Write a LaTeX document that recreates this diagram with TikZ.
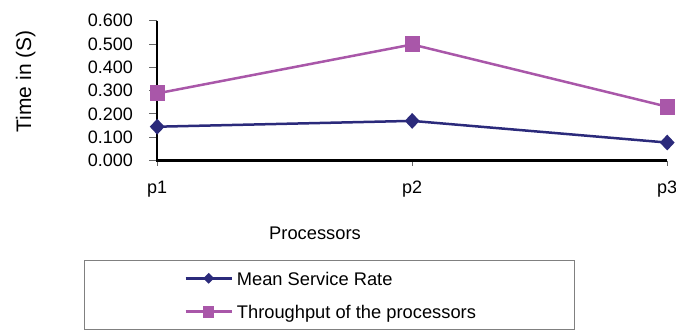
\documentclass[tikz,border=0pt]{standalone}
\usepackage{fontspec}
\setmainfont{Liberation Sans}
\usepackage{xcolor}
\usetikzlibrary{shapes.geometric, calc}
\definecolor{ratenavy}{HTML}{2B2A7B}
\definecolor{thrupurple}{HTML}{A957A9}
\tikzset{
  axisline/.style={line width=2.2pt, black},
  tickline/.style={line width=0.9pt, black!60},
  rateline/.style={line width=2.5pt, ratenavy},
  thruline/.style={line width=2.5pt, thrupurple},
  ratemark/.style={diamond, fill=ratenavy, inner sep=0pt, minimum width=15pt, minimum height=16pt},
  thrumark/.style={rectangle, fill=thrupurple, inner sep=0pt, minimum width=15pt, minimum height=16pt},
  legrate/.style={diamond, fill=ratenavy, inner sep=0pt, minimum size=11pt},
  legthru/.style={rectangle, fill=thrupurple, inner sep=0pt, minimum width=11pt, minimum height=12pt},
  ticklbl/.style={inner sep=0pt, font=\fontsize{18}{20}\selectfont},
  titlelbl/.style={inner sep=0pt, font=\fontsize{18.3}{20}\selectfont},
  legframe/.style={line width=0.9pt, black!50}
}

\begin{document}
\begin{tikzpicture}[x=1pt, y=-1pt]
  \useasboundingbox (0,0) rectangle (676,331);

  \begin{scope}[shift={(157.2,160.5)}, x=255pt, y=233pt]
    % axes
    \coordinate (o) at (0,0);
    \coordinate (ytop) at (0,0.6);
    \coordinate (xend) at (2,0);
    \foreach \v in {0,...,6} {
      \coordinate (yt\v) at (0,\v/10);
      \draw[tickline] (yt\v) -- ++(-8pt,0);
      \node[ticklbl, anchor=east] (ylab\v) at ([xshift=-24pt]yt\v) {0.\v00};
    }
    \foreach \i/\p in {0/p1,1/p2,2/p3} {
      \coordinate (xt\i) at (\i,0);
      \draw[tickline] (xt\i) -- ++(0,-5pt);
      \node[ticklbl, anchor=base] (xlab\i) at ([yshift=-33pt]xt\i) {\p};
    }
    \draw[axisline] (ytop) -- (o) -- (xend);

    % data
    \coordinate (r1) at (0,0.145);
    \coordinate (r2) at (1,0.170);
    \coordinate (r3) at (2,0.077);
    \coordinate (t1) at (0,0.288);
    \coordinate (t2) at (1,0.498);
    \coordinate (t3) at (2,0.231);
    \draw[thruline] (t1) -- (t2) -- (t3);
    \draw[rateline] (r1) -- (r2) -- (r3);
    \foreach \k in {1,2,3} {
      \node[thrumark] (tm\k) at (t\k) {};
      \node[ratemark] (rm\k) at (r\k) {};
    }
  \end{scope}

  % axis titles
  \node[titlelbl, anchor=base] (xtitle) at (315,239.3) {Processors};
  \node[inner sep=0pt, font=\fontsize{21}{23}\selectfont, rotate=90, anchor=base] (ytitle) at (31,81.4) {Time in (S)};

  % legend
  \coordinate (legnw) at (84,260.7);
  \coordinate (legse) at (574,329.3);
  \draw[legframe] (legnw) rectangle (legse);
  \coordinate (la1) at (185.7,278.3);
  \coordinate (lb1) at (231.7,278.3);
  \coordinate (la2) at (185.7,311.7);
  \coordinate (lb2) at (231.7,311.7);
  \draw[rateline] (la1) -- (lb1);
  \node[legrate] (lm1) at ($(la1)!0.5!(lb1)$) {};
  \draw[thruline] (la2) -- (lb2);
  \node[legthru] (lm2) at ($(la2)!0.5!(lb2)$) {};
  \node[titlelbl, anchor=base west] (legtxt1) at (236.7,285) {Mean Service Rate};
  \node[titlelbl, anchor=base west] (legtxt2) at (236.7,318.4) {Throughput of the processors};
\end{tikzpicture}
\end{document}
